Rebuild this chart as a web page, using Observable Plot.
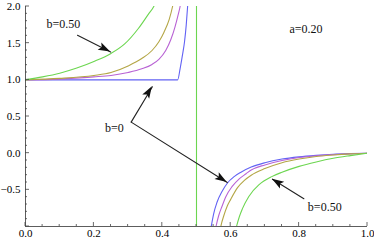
<!DOCTYPE html>
<html><head><meta charset="utf-8">
<script src="https://cdn.jsdelivr.net/npm/d3@7"></script>
<script src="https://cdn.jsdelivr.net/npm/@observablehq/plot@0.6"></script>
<style>
body{margin:0;background:#fff}
svg{display:block}
svg text{font-family:"Liberation Serif","Times New Roman",Times,"DejaVu Serif",serif !important}
</style>
</head><body><div id="chart"></div>
<script>
// Series, a = 0.20
const seriesKeys = ["b0", "b1", "b2", "b3"];
const seriesColors = ["#6262f4", "#b862d4", "#b4a646", "#6cd650"];

const b0Left = [[0,1.0],[0.2,1.0],[0.445,1.0],[0.452,1.15],[0.459,1.34],[0.465,1.52],[0.47,1.75],[0.474,2.0],[0.478,2.3]];
const b0Right = [[0.541,-1.05],[0.545,-0.95],[0.55,-0.83],[0.56,-0.67],[0.575,-0.52],[0.59,-0.41],[0.61,-0.32],[0.63,-0.26],[0.66,-0.19],[0.7,-0.13],[0.75,-0.08],[0.8,-0.05],[0.85,-0.03],[0.9,-0.015],[0.95,-0.006],[1.0,0]];

const b1Left = [[0,1.0],[0.1,1.01],[0.2,1.04],[0.25,1.06],[0.3,1.10],[0.34,1.15],[0.37,1.21],[0.39,1.28],[0.41,1.40],[0.425,1.55],[0.437,1.72],[0.447,1.90],[0.452,2.0],[0.46,2.3]];
const b1Right = [[0.555,-1.05],[0.558,-0.98],[0.565,-0.85],[0.575,-0.72],[0.585,-0.60],[0.605,-0.45],[0.625,-0.35],[0.645,-0.28],[0.66,-0.23],[0.7,-0.16],[0.75,-0.10],[0.8,-0.06],[0.85,-0.035],[0.9,-0.02],[0.95,-0.008],[1.0,0]];

const b2Left = [[0,1.0],[0.1,1.02],[0.2,1.06],[0.25,1.10],[0.3,1.19],[0.34,1.29],[0.37,1.40],[0.39,1.52],[0.405,1.65],[0.42,1.82],[0.43,2.0],[0.44,2.25]];
const b2Right = [[0.569,-1.05],[0.572,-0.98],[0.58,-0.85],[0.59,-0.72],[0.60,-0.63],[0.62,-0.47],[0.64,-0.37],[0.66,-0.30],[0.7,-0.21],[0.75,-0.13],[0.8,-0.08],[0.85,-0.045],[0.9,-0.025],[0.95,-0.01],[1.0,0]];

const b3Left = [[0,1.0],[0.05,1.04],[0.10,1.09],[0.15,1.16],[0.20,1.25],[0.25,1.36],[0.29,1.49],[0.33,1.70],[0.36,1.90],[0.375,2.0],[0.39,2.2]];
const b3Pole = [[0.5,2.5],[0.5,-1.5]];
const b3Right = [[0.612,-1.1],[0.617,-1.0],[0.625,-0.87],[0.634,-0.76],[0.653,-0.59],[0.683,-0.43],[0.72,-0.32],[0.75,-0.26],[0.8,-0.18],[0.85,-0.12],[0.9,-0.07],[0.95,-0.033],[1.0,0]];

const xTickLabels = [0, 0.2, 0.4, 0.6, 0.8, 1.0];
const yTickLabels = [-0.5, 0, 0.5, 1.0, 1.5, 2.0];

const labels = [
  {text: "a=0.20", x: 0.82, y: 1.69},
  {text: "b=0.50", x: 0.111, y: 1.757},
  {text: "b=0", x: 0.26, y: 0.338},
  {text: "b=0.50", x: 0.875, y: -0.73}
];
const arrows = [
  {x1: 0.152, y1: 1.608, x2: 0.249, y2: 1.378},
  {x1: 0.309, y1: 0.423, x2: 0.371, y2: 0.905},
  {x1: 0.309, y1: 0.423, x2: 0.590, y2: -0.401},
  {x1: 0.814, y1: -0.622, x2: 0.722, y2: -0.355}
];

const rows = [];
function add(arr, key, seg) { arr.forEach(([x, y]) => rows.push({x, y, key, seg: key + seg})); }
add(b0Left, "b0", "L"); add(b0Right, "b0", "R");
add(b1Left, "b1", "L"); add(b1Right, "b1", "R");
add(b2Left, "b2", "L"); add(b2Right, "b2", "R");
add(b3Left, "b3", "L"); add(b3Right, "b3", "R");
const poleRows = b3Pole.map(([x, y]) => ({x, y, key: "b3"}));

const serif = "'Liberation Serif', 'Times New Roman', Times, 'DejaVu Serif', serif";
const plot = Plot.plot({
  width: 374, height: 240,
  marginLeft: 25, marginRight: 7, marginTop: 6, marginBottom: 14,
  style: {fontFamily: serif, fontSize: "11px", background: "#fff"},
  x: {domain: [0, 1]},
  y: {domain: [-1, 2]},
  color: {domain: seriesKeys, range: seriesColors},
  marks: [
    Plot.line(rows, {x: "x", y: "y", z: "seg", stroke: "key", strokeWidth: 1.1, clip: true, curve: "monotone-x"}),
    Plot.line(poleRows, {x: "x", y: "y", stroke: "key", strokeWidth: 1.1, clip: true}),
    Plot.ruleX([0], {stroke: "#333", strokeWidth: 0.8}),
    Plot.ruleY([-1], {stroke: "#333", strokeWidth: 0.8}),
    Plot.axisX({ticks: xTickLabels, tickSize: 0, tickPadding: 3, tickFormat: d3.format(".1f"), label: null, fontSize: 11}),
    Plot.axisY({ticks: yTickLabels, tickSize: 0, tickPadding: 5, tickFormat: d3.format(".1f"), label: null, fontSize: 11}),
    Plot.arrow(arrows, {x1: "x1", y1: "y1", x2: "x2", y2: "y2", headLength: 0, stroke: "#222", strokeWidth: 1.1}),
    Plot.text(labels, {x: "x", y: "y", text: "text", fontSize: 12, fill: "#111"})
  ]
});
document.getElementById("chart").appendChild(plot);

const svg = d3.select(plot);
svg.selectAll("text").attr("font-family", serif).style("font-family", serif);

// ticks and arrowheads positioned through Plot's scales
const sx = plot.scale("x"), sy = plot.scale("y");
const g = svg.append("g").attr("stroke", "#444").attr("stroke-width", 0.8);
const y0 = sy.apply(-1), x0 = sx.apply(0);
for (let i = 0; i <= 20; i++) {
  const v = i * 0.05;
  const len = i % 4 === 0 ? 4 : 2;
  const px = sx.apply(v);
  g.append("line").attr("x1", px).attr("x2", px).attr("y1", y0).attr("y2", y0 - len);
}
for (let i = 0; i <= 30; i++) {
  const v = -1 + i * 0.1;
  const len = i % 5 === 0 ? 4 : 2;
  const py = sy.apply(v);
  g.append("line").attr("x1", x0).attr("x2", x0 + len).attr("y1", py).attr("y2", py);
}
const h = svg.append("g").attr("fill", "#111");
arrows.forEach(a => {
  const ax = sx.apply(a.x1), ay = sy.apply(a.y1), bx = sx.apply(a.x2), by = sy.apply(a.y2);
  const dx = bx - ax, dy = by - ay, L = Math.hypot(dx, dy);
  const ux = dx / L, uy = dy / L;
  const hl = 12, hw = 4;
  const cx = bx - ux * hl, cy = by - uy * hl;
  const pts = [[bx, by], [cx - uy * hw, cy + ux * hw], [cx + ux * 2.5, cy + uy * 2.5], [cx + uy * hw, cy - ux * hw]];
  h.append("polygon").attr("points", pts.map(p => p.join(",")).join(" "));
});
</script>
</body></html>
